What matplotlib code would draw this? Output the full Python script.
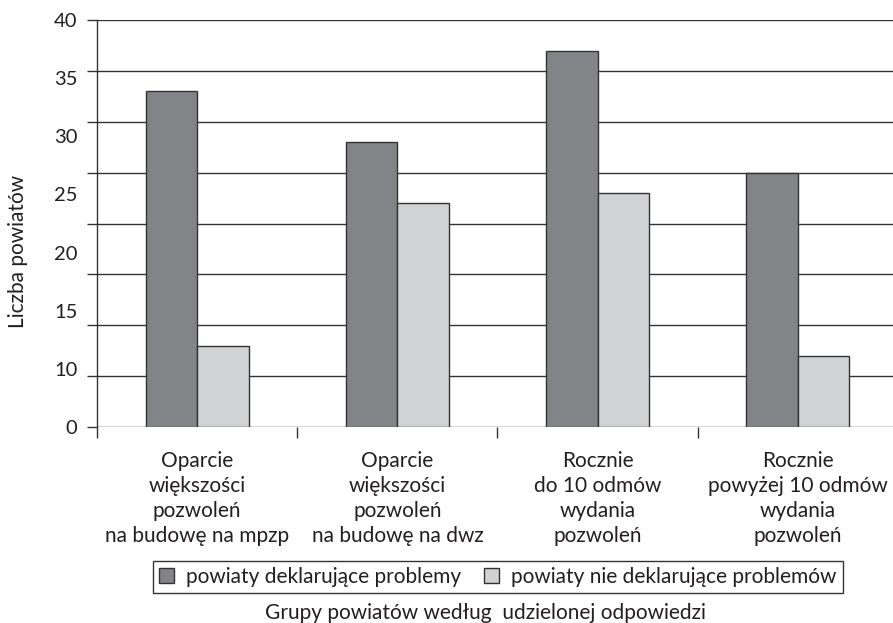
import numpy as np
import matplotlib
matplotlib.use("Agg")
import matplotlib.pyplot as plt
from matplotlib.patches import Patch

plt.rcParams['font.family'] = ['Lato', 'DejaVu Sans']

categories = [
    "Oparcie\nwiększości\npozwoleń\nna budowę na mpzp",
    "Oparcie\nwiększości\npozwoleń\nna budowę na dwz",
    "Rocznie\ndo 10 odmów\nwydania\npozwoleń",
    "Rocznie\npowyżej 10 odmów\nwydania\npozwoleń",
]
z_problemami = [33, 28, 37, 25]
bez_problemow = [8, 22, 23, 7]
series_names = ["powiaty deklarujące problemy", "powiaty nie deklarujące problemów"]
ytick_labels = ["0", "10", "15", "20", "25", "30", "35", "40"]

dark = "#838488"
light = "#d1d2d4"
edge = "#333333"
txt = "#231f20"
fs = 15

fig = plt.figure(figsize=(8.93, 6.23), dpi=100)
ax = fig.add_axes([97 / 893, 1 - 427 / 623, 801 / 893, 407 / 623])

x = np.arange(len(categories))
w = 0.257
ax.bar(x - w / 2, z_problemami, w, color=dark, edgecolor=edge, linewidth=1.0, zorder=2)
ax.bar(x + w / 2, bez_problemow, w, color=light, edgecolor=edge, linewidth=1.0, zorder=2)

ax.set_xlim(-0.5, len(categories) - 0.5)
ax.set_ylim(0, 40)

# siatka co 5, podpisy osi rozlozone rowno
ax.yaxis.remove_overlapping_locs = False
ax.set_yticks(np.arange(0, 41, 5))
ax.set_yticklabels([])
ax.set_yticks(np.linspace(0, 40, len(ytick_labels)), ytick_labels, minor=True)
ax.tick_params(axis='y', which='major', length=7, width=1, color=edge)
ax.tick_params(axis='y', which='minor', length=0, pad=14, labelsize=fs - 0.5, labelcolor=txt)
ax.yaxis.grid(True, which='major', color=edge, linewidth=1.0)
ax.set_axisbelow(True)

ax.set_xticks(np.arange(-0.5, len(categories), 1.0))
ax.set_xticklabels([])
ax.set_xticks(x, categories, minor=True)
ax.tick_params(axis='x', which='major', length=8, width=1, color=edge)
ax.tick_params(axis='x', which='minor', length=0, pad=17, labelsize=fs, labelcolor=txt)
for lab in ax.get_xticklabels(minor=True):
    lab.set_linespacing(1.32)

for s in ['top', 'right', 'bottom']:
    ax.spines[s].set_visible(False)
ax.spines['left'].set_color(edge)
ax.spines['left'].set_linewidth(1.0)

handles = [Patch(facecolor=dark, edgecolor=edge, linewidth=1.0),
           Patch(facecolor=light, edgecolor=edge, linewidth=1.0)]
leg = fig.legend(handles, series_names, loc='center', bbox_to_anchor=(498 / 893, 1 - 577 / 623),
                 ncol=2, frameon=True, fancybox=False, edgecolor=edge, framealpha=1,
                 fontsize=fs, handlelength=0.7, handleheight=0.7, handletextpad=0.6,
                 columnspacing=1.1, borderpad=0.3, labelcolor=txt)
leg.get_frame().set_linewidth(1.0)

fig.text(485 / 893, 1 - 613 / 623, "Grupy powiatów według  udzielonej odpowiedzi",
         ha='center', va='center', fontsize=fs, color=txt)
fig.text(18 / 893, 1 - 251 / 623, "Liczba powiatów", rotation=90,
         ha='center', va='center', fontsize=fs, color=txt)

fig.savefig("out.png", dpi=100)
